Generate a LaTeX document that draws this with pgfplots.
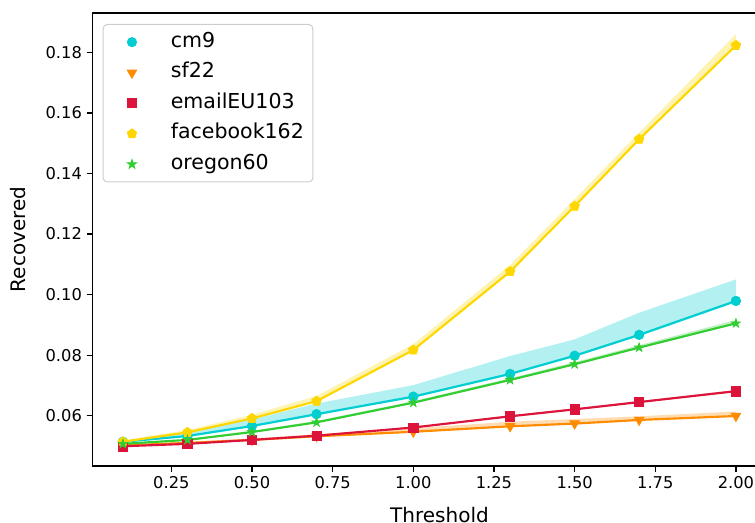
\documentclass[border=0pt]{standalone}
\usepackage{pgfplots}
\pgfplotsset{compat=1.18}
\usepackage{pgfplotstable}
\usepgfplotslibrary{fillbetween}
\usetikzlibrary{plotmarks}
\usepackage{fontspec}
\setmainfont{DejaVu Sans}

\definecolor{cmcol}{HTML}{00CED1}
\definecolor{sfcol}{HTML}{FF8C00}
\definecolor{emcol}{HTML}{DC143C}
\definecolor{fbcol}{HTML}{FFD700}
\definecolor{orcol}{HTML}{32CD32}
\definecolor{legframe}{HTML}{CCCCCC}

\pgfdeclareplotmark{fstar}{%
  \pgfpathmoveto{\pgfpointpolar{90}{\pgfplotmarksize}}%
  \pgfpathlineto{\pgfpointpolar{126}{0.382*\pgfplotmarksize}}%
  \pgfpathlineto{\pgfpointpolar{162}{\pgfplotmarksize}}%
  \pgfpathlineto{\pgfpointpolar{198}{0.382*\pgfplotmarksize}}%
  \pgfpathlineto{\pgfpointpolar{234}{\pgfplotmarksize}}%
  \pgfpathlineto{\pgfpointpolar{270}{0.382*\pgfplotmarksize}}%
  \pgfpathlineto{\pgfpointpolar{306}{\pgfplotmarksize}}%
  \pgfpathlineto{\pgfpointpolar{342}{0.382*\pgfplotmarksize}}%
  \pgfpathlineto{\pgfpointpolar{18}{\pgfplotmarksize}}%
  \pgfpathlineto{\pgfpointpolar{54}{0.382*\pgfplotmarksize}}%
  \pgfpathclose
  \pgfusepathqfillstroke
}

\pgfplotstableread{
x m lo hi
0.1 0.0514 0.0511 0.0517
0.3 0.0533 0.0530 0.0545
0.5 0.0566 0.0562 0.0588
0.7 0.0605 0.0601 0.0640
1.0 0.0663 0.0659 0.0701
1.3 0.0738 0.0734 0.0797
1.5 0.0798 0.0794 0.0852
1.7 0.0867 0.0862 0.0940
2.0 0.0979 0.0974 0.1050
}\cmnine
\pgfplotstableread{
x m lo hi
0.1 0.0502 0.0500 0.0504
0.3 0.0510 0.0508 0.0514
0.5 0.0520 0.0518 0.0525
0.7 0.0532 0.0530 0.0539
1.0 0.0547 0.0544 0.0559
1.3 0.0565 0.0562 0.0580
1.5 0.0574 0.0571 0.0589
1.7 0.0586 0.0583 0.0598
2.0 0.0599 0.0596 0.0614
}\sftwo
\pgfplotstableread{
x m lo hi
0.1 0.0499 0.0497 0.0501
0.3 0.0507 0.0505 0.0509
0.5 0.0520 0.0518 0.0522
0.7 0.0534 0.0532 0.0536
1.0 0.0561 0.0559 0.0564
1.3 0.0598 0.0595 0.0601
1.5 0.0621 0.0618 0.0624
1.7 0.0645 0.0642 0.0648
2.0 0.0681 0.0678 0.0685
}\email
\pgfplotstableread{
x m lo hi
0.1 0.0514 0.0512 0.0518
0.3 0.0545 0.0542 0.0553
0.5 0.0591 0.0588 0.0603
0.7 0.0648 0.0645 0.0665
1.0 0.0817 0.0813 0.0836
1.3 0.1076 0.1072 0.1098
1.5 0.1292 0.1288 0.1315
1.7 0.1513 0.1509 0.1535
2.0 0.1823 0.1819 0.1860
}\fbook
\pgfplotstableread{
x m lo hi
0.1 0.0507 0.0505 0.0509
0.3 0.0520 0.0518 0.0523
0.5 0.0546 0.0544 0.0550
0.7 0.0578 0.0576 0.0583
1.0 0.0643 0.0641 0.0648
1.3 0.0718 0.0716 0.0724
1.5 0.0770 0.0768 0.0777
1.7 0.0825 0.0822 0.0833
2.0 0.0905 0.0902 0.0916
}\oregon

\begin{document}
\begin{tikzpicture}
\begin{axis}[
  at={(69.225pt,42.75pt)}, anchor=south west,
  scale only axis, width=505.7pt, height=339.75pt,
  xmin=0.005, xmax=2.095, ymin=0.04339, ymax=0.19299,
  xtick={0.25,0.5,0.75,1.0,1.25,1.5,1.75,2.0},
  ytick={0.06,0.08,0.10,0.12,0.14,0.16,0.18},
  scaled y ticks=false, scaled x ticks=false,
  xticklabel style={/pgf/number format/.cd, fixed, fixed zerofill, precision=2, assume math mode=true},
  yticklabel style={/pgf/number format/.cd, fixed, fixed zerofill, precision=2, assume math mode=true},
  tick label style={font=\fontsize{12.2pt}{14pt}\selectfont},
  xtick pos=left, ytick pos=left,
  tick align=outside, major tick length=4.3pt,
  every tick/.style={black, line width=0.95pt},
  axis line style={line width=0.95pt},
  xlabel={Threshold}, ylabel={Recovered},
  every axis x label/.style={at={(axis description cs:0.5149,-0.1252)}, anchor=base, font=\fontsize{15pt}{18pt}\selectfont},
  every axis y label/.style={at={(axis description cs:-0.1094,0.5)}, rotate=90, anchor=center, font=\fontsize{15pt}{18pt}\selectfont},
  legend cell align=left,
  legend image code/.code={\path (-14.45pt,0pt) (28.8pt,0pt); \draw[#1, fill opacity=1, draw opacity=1] plot coordinates {(0pt,0pt)};},
  legend style={at={(0.0154,0.9757)}, anchor=north west, draw=legframe, line width=0.75pt,
    rounded corners=3pt, fill=white, fill opacity=0.8, text opacity=1,
    inner xsep=6.75pt, inner ysep=6pt, row sep=8.4pt, column sep=0pt,
    font=\fontsize{15.4pt}{18pt}\selectfont,
    nodes={inner sep=0pt, text height=11pt, text depth=3.5pt}},
]
% cm9
\addplot[name path=cmhi, draw=none, forget plot] table[x=x,y=hi]{\cmnine};
\addplot[name path=cmlo, draw=none, forget plot] table[x=x,y=lo]{\cmnine};
\addplot[fill=cmcol, fill opacity=0.3, draw=none, forget plot] fill between[of=cmhi and cmlo];
\addplot[cmcol, line width=1.6pt, mark=*, mark size=3.6pt, mark options={solid, fill=cmcol, line width=0.5pt}, forget plot] table[x=x,y=m]{\cmnine};
% sf22
\addplot[name path=sfhi, draw=none, forget plot] table[x=x,y=hi]{\sftwo};
\addplot[name path=sflo, draw=none, forget plot] table[x=x,y=lo]{\sftwo};
\addplot[fill=sfcol, fill opacity=0.3, draw=none, forget plot] fill between[of=sfhi and sflo];
\addplot[sfcol, line width=1.6pt, mark=triangle*, mark size=4.2pt, mark options={solid, fill=sfcol, rotate=180, line width=0.5pt}, forget plot] table[x=x,y=m]{\sftwo};
% email
\addplot[name path=emhi, draw=none, forget plot] table[x=x,y=hi]{\email};
\addplot[name path=emlo, draw=none, forget plot] table[x=x,y=lo]{\email};
\addplot[fill=emcol, fill opacity=0.3, draw=none, forget plot] fill between[of=emhi and emlo];
\addplot[emcol, line width=1.6pt, mark=square*, mark size=3.5pt, mark options={solid, fill=emcol, line width=0.5pt}, forget plot] table[x=x,y=m]{\email};
% facebook
\addplot[name path=fbhi, draw=none, forget plot] table[x=x,y=hi]{\fbook};
\addplot[name path=fblo, draw=none, forget plot] table[x=x,y=lo]{\fbook};
\addplot[fill=fbcol, fill opacity=0.3, draw=none, forget plot] fill between[of=fbhi and fblo];
\addplot[fbcol, line width=1.6pt, mark=pentagon*, mark size=3.8pt, mark options={solid, fill=fbcol, line width=0.5pt}, forget plot] table[x=x,y=m]{\fbook};
% oregon
\addplot[name path=orhi, draw=none, forget plot] table[x=x,y=hi]{\oregon};
\addplot[name path=orlo, draw=none, forget plot] table[x=x,y=lo]{\oregon};
\addplot[fill=orcol, fill opacity=0.3, draw=none, forget plot] fill between[of=orhi and orlo];
\addplot[orcol, line width=1.6pt, mark=fstar, mark size=3.6pt, mark options={solid, fill=orcol, line width=0.5pt}, forget plot] table[x=x,y=m]{\oregon};

\addlegendimage{mark=*, mark size=3.4pt, cmcol, fill=cmcol}
\addlegendentry{cm9}
\addlegendimage{mark=triangle*, mark size=4.0pt, sfcol, fill=sfcol, mark options={rotate=180}}
\addlegendentry{sf22}
\addlegendimage{mark=square*, mark size=3.3pt, emcol, fill=emcol}
\addlegendentry{emailEU103}
\addlegendimage{mark=pentagon*, mark size=3.6pt, fbcol, fill=fbcol}
\addlegendentry{facebook162}
\addlegendimage{mark=fstar, mark size=3.4pt, orcol, fill=orcol}
\addlegendentry{oregon60}
\end{axis}
\pgfresetboundingbox
\path[use as bounding box] (0pt,0pt) rectangle (566.25pt,392.25pt);
\end{tikzpicture}
\end{document}
